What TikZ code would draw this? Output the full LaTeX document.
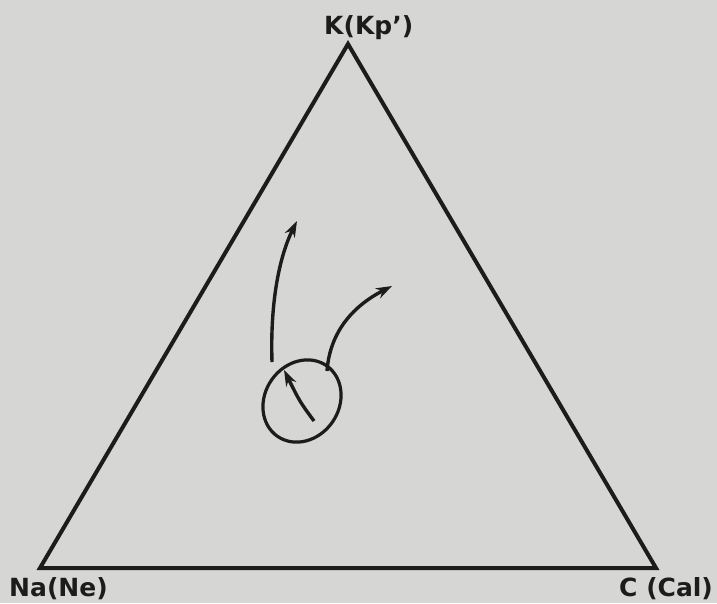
\documentclass[tikz,border=0pt]{standalone}
\usepackage{fontspec}
\newfontfamily\labfont{DejaVu Sans}
\usetikzlibrary{arrows.meta}
\definecolor{paper}{RGB}{214,214,212}
\definecolor{ink}{RGB}{28,28,28}
\begin{document}
\begin{tikzpicture}[x=1pt,y=-1pt,
    line/.style={draw=ink,line width=4pt,line join=miter},
    flow/.style={draw=ink,line width=3.4pt,-{Stealth[length=16pt,width=11pt]}},
    lab/.style={font=\labfont\bfseries\fontsize{25}{25}\selectfont,text=ink,inner sep=0pt,anchor=base west}]
  \fill[paper] (0,0) rectangle (717,603);
  \useasboundingbox (0,0) rectangle (717,603);
  \coordinate (k) at (348,44);
  \coordinate (na) at (40,568);
  \coordinate (c) at (656,568);
  \draw[line] (k) -- (c) -- (na) -- cycle;
  \node[lab] (lk) at (324,34) {K(Kp’)};
  \node[lab] (lna) at (9,596) {Na(Ne)};
  \node[lab] (lc) at (619,596) {C (Cal)};
  % field of compositions
  \draw[draw=ink,line width=3.2pt,rotate around={-35:(302,401)}] (302,401) ellipse (37 and 43);
  \coordinate (s1) at (272,362);
  \coordinate (e1) at (297,221);
  \coordinate (s2) at (327,371);
  \coordinate (e2) at (392,286);
  \coordinate (s3) at (314,421);
  \coordinate (e3) at (284,370);
  \draw[flow] (s1) .. controls (270,300) and (280,255) .. (e1);
  \draw[flow] (s2) .. controls (330,330) and (355,305) .. (e2);
  \draw[flow] (s3) .. controls (300,402) .. (e3);
\end{tikzpicture}
\end{document}
